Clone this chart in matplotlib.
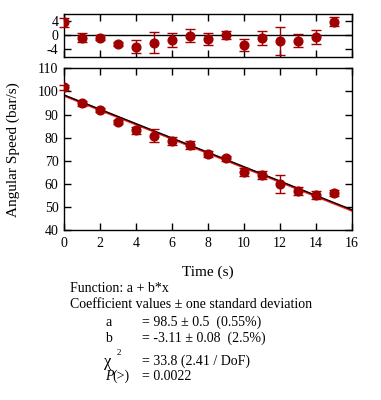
import numpy as np
import matplotlib
matplotlib.use('Agg')
import matplotlib.pyplot as plt

# data
time_s = [0, 1, 2, 3, 4, 5, 6, 7, 8, 9, 10, 11, 12, 13, 14, 15]
speed = [101.8, 94.8, 92.0, 86.9, 83.2, 80.8, 78.7, 76.8, 72.8, 71.0, 65.2, 63.8, 59.9, 56.9, 55.2, 55.9]
speed_err = [1.0, 1.2, 0.8, 0.8, 1.5, 2.8, 1.8, 1.8, 1.3, 1.2, 1.8, 1.8, 3.8, 1.8, 1.8, 1.3]
resid = [3.7, -0.7, -0.6, -2.4, -3.2, -2.1, -1.4, -0.1, -1.0, 0.2, -2.7, -0.7, -1.5, -1.5, -0.4, 3.9]
resid_err = [1.3, 1.3, 0.7, 0.6, 1.9, 3.0, 2.0, 1.8, 1.8, 1.2, 1.8, 2.0, 4.0, 1.8, 2.0, 1.3]
fit_a = 98.5
fit_b = -3.11

plt.rcParams['font.family'] = ['Liberation Serif', 'DejaVu Serif']
plt.rcParams['axes.unicode_minus'] = False
red = '#a00000'

fig = plt.figure(figsize=(3.81, 4.0), dpi=100)
axr = fig.add_axes([0.168, 0.857, 0.756, 0.107])
ax = fig.add_axes([0.168, 0.425, 0.756, 0.404])

def style(a):
	a.tick_params(direction='in', top=True, right=True, labelsize=10, length=5, width=1)
	a.tick_params(axis='x', pad=5)
	a.tick_params(axis='y', pad=4)
	for s in a.spines.values():
		s.set_linewidth(1)

def points(a, y, yerr):
	_, caps, bars = a.errorbar(time_s, y, yerr=yerr, fmt='o', color=red, ms=6.3, capsize=3.5,
		elinewidth=1, capthick=1, zorder=4)
	for art in list(caps) + list(bars) + a.lines[-1:]:
		art.set_clip_on(False)

# residuals
axr.axhline(0, color='black', lw=1)
points(axr, resid, resid_err)
axr.set_xlim(0, 16)
axr.set_ylim(-6.2, 6)
axr.set_yticks([-4, 0, 4])
axr.set_xticks(range(0, 17, 2))
axr.set_xticklabels([])
style(axr)

# main plot
xx = np.array([0, 16])
ax.plot(xx, fit_a - 0.3 + (fit_b - 0.005) * xx, color='#ff2020', lw=1.6, zorder=2)
ax.plot(xx, fit_a + fit_b * xx, color='black', lw=1, zorder=3)
points(ax, speed, speed_err)
ax.set_xlim(0, 16)
ax.set_ylim(40, 110)
ax.set_xticks(range(0, 17, 2))
ax.set_yticks(range(40, 111, 10))
style(ax)
ax.set_xlabel('Time (s)', fontsize=11, labelpad=11)
ax.set_ylabel('Angular Speed (bar/s)', fontsize=11, labelpad=13)

# fit results
fs = 10
def put(x, y, s, **kw):
	fig.text(x/381, 1-y/400, s, va='center', fontsize=kw.pop('size', fs), **kw)

put(70, 289, 'Function: a + b*x')
put(70, 305, 'Coefficient values \u00b1 one standard deviation')
rows_y = [322.5, 338.5, 361, 376]
values = ['= 98.5 \u00b1 0.5  (0.55%)', '= -3.11 \u00b1 0.08  (2.5%)', '= 33.8 (2.41 / DoF)', '= 0.0022']
put(105, rows_y[0], 'a')
put(105, rows_y[1], 'b')
put(104, rows_y[2] + 1, '\u03c7', size=12)
put(117, rows_y[2] - 8, '2', size=6.5)
put(105, rows_y[3], 'P', style='italic')
put(112, rows_y[3], '(>)')
for val, yy in zip(values, rows_y):
	put(142, yy, val)

fig.savefig('out.png', dpi=100)
